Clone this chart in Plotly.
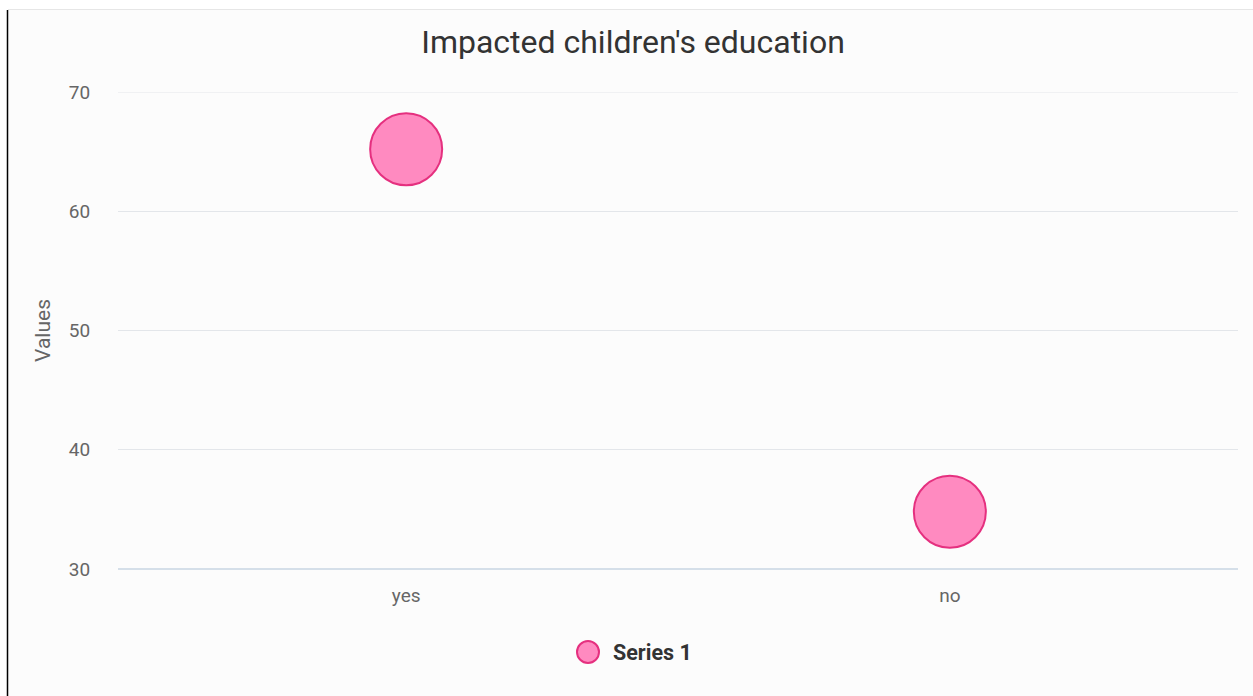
import plotly.graph_objects as go

# Chart data
categories = ["yes", "no"]
values = [65.2, 34.8]
series_name = "Series 1"
y_ticks = [30, 40, 50, 60, 70]

W, H = 1253, 696
L, R, T, B = 118, 15, 92, 127
plot_w = W - L - R
plot_h = H - T - B

FILL = "#ff8ac0"
EDGE = "#e5307f"
GRID = "#e3e6ea"


def px_x(px):
    return (px - L) / plot_w


def px_y(py):
    return (H - B - py) / plot_h


fig = go.Figure()
fig.add_trace(go.Scatter(
    x=categories,
    y=values,
    mode="markers",
    name=series_name,
    marker=dict(size=72, color=FILL, line=dict(color=EDGE, width=2), opacity=1),
    showlegend=False,
))

# Panel background, top border and left rule
fig.add_shape(type="rect", xref="paper", yref="paper",
              x0=px_x(8), x1=px_x(W), y0=px_y(H), y1=px_y(9),
              fillcolor="#fcfcfc", line=dict(width=0), layer="below")
fig.add_shape(type="line", xref="paper", yref="paper",
              x0=px_x(8), x1=px_x(W), y0=px_y(9.5), y1=px_y(9.5),
              line=dict(color="#e6e6e6", width=1))
fig.add_shape(type="line", xref="paper", yref="paper",
              x0=px_x(7.5), x1=px_x(7.5), y0=px_y(10), y1=px_y(H),
              line=dict(color="#000000", width=1.5))

# Top gridline at the upper edge of the value range
fig.add_shape(type="line", xref="paper", yref="y", x0=0, x1=1,
              y0=y_ticks[-1], y1=y_ticks[-1],
              line=dict(color=GRID, width=1), layer="below")

# Legend entry: swatch circle plus bold label
fig.add_shape(type="circle", xref="paper", yref="paper",
              x0=px_x(577), x1=px_x(599), y0=px_y(663), y1=px_y(641),
              fillcolor=FILL, line=dict(color=EDGE, width=2))
fig.add_annotation(text=f"<b>{series_name}</b>", xref="paper", yref="paper",
                   x=px_x(611), y=px_y(652), xanchor="left", yanchor="middle",
                   showarrow=False,
                   font=dict(size=21.5, color="#333333", family="Roboto, sans-serif"))

fig.update_layout(
    width=W, height=H,
    margin=dict(l=L, r=R, t=T, b=B, autoexpand=False),
    paper_bgcolor="#ffffff",
    plot_bgcolor="rgba(0,0,0,0)",
    font=dict(family="Roboto, sans-serif", color="#666666"),
    title=dict(text="Impacted children's education", x=633 / W, xanchor="center",
               y=1 - 42 / H, yanchor="middle",
               font=dict(size=32, color="#333333", family="Roboto, sans-serif")),
    xaxis=dict(
        type="category", range=[-0.53, 1.53],
        showgrid=False, zeroline=False, showline=False,
        ticks="outside", ticklen=9, tickcolor="rgba(0,0,0,0)",
        tickfont=dict(size=19, color="#666666"),
    ),
    yaxis=dict(
        range=[30, 70], tickvals=y_ticks,
        showgrid=True, gridcolor=GRID, gridwidth=1,
        zeroline=False, showline=False,
        ticks="outside", ticklen=23, tickcolor="rgba(0,0,0,0)",
        tickfont=dict(size=19, color="#666666"),
        title=dict(text="Values", font=dict(size=21, color="#666666"), standoff=12),
    ),
    showlegend=False,
)

# Bluish baseline along the x axis
fig.add_shape(type="line", xref="paper", yref="paper", x0=0, x1=1, y0=0, y1=0,
              line=dict(color="#c9d6e3", width=1.5))

fig.write_html("out.html")
